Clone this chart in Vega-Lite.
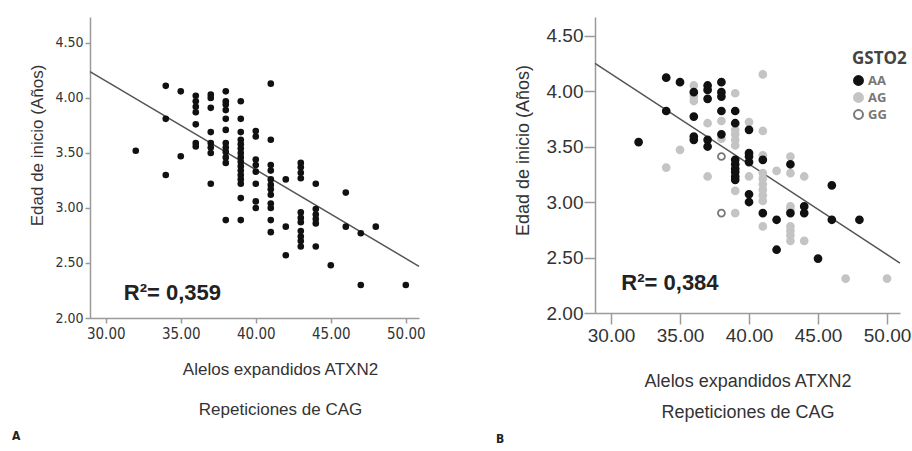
{
  "$schema": "https://vega.github.io/schema/vega-lite/v6.json",
  "padding": {"left": 11, "top": 17, "right": 0, "bottom": 5},
  "background": "white",
  "config": {
    "view": {"stroke": null},
    "concat": {"spacing": 70},
    "axis": {"grid": false, "domainColor": "#9a9a9a", "domainWidth": 1.5, "tickColor": "#9a9a9a", "tickWidth": 1.5, "labelColor": "#333", "titleColor": "#333", "titleFontWeight": "normal", "labelFont": "DejaVu Sans Condensed, Liberation Sans, sans-serif", "titleFont": "Liberation Sans"}
  },
  "datasets": {
    "a": [
      {"x": 32, "y": 3.52},
      {"x": 34, "y": 4.11}, {"x": 34, "y": 3.81}, {"x": 34, "y": 3.30},
      {"x": 35, "y": 4.06}, {"x": 35, "y": 3.47},
      {"x": 36, "y": 4.02}, {"x": 36, "y": 3.97}, {"x": 36, "y": 3.92}, {"x": 36, "y": 3.87}, {"x": 36, "y": 3.76}, {"x": 36, "y": 3.59}, {"x": 36, "y": 3.56},
      {"x": 37, "y": 4.03}, {"x": 37, "y": 4.00}, {"x": 37, "y": 3.91}, {"x": 37, "y": 3.69}, {"x": 37, "y": 3.59}, {"x": 37, "y": 3.55}, {"x": 37, "y": 3.50}, {"x": 37, "y": 3.22},
      {"x": 38, "y": 4.06}, {"x": 38, "y": 3.97}, {"x": 38, "y": 3.94}, {"x": 38, "y": 3.89}, {"x": 38, "y": 3.81}, {"x": 38, "y": 3.71}, {"x": 38, "y": 3.59}, {"x": 38, "y": 3.55}, {"x": 38, "y": 3.51}, {"x": 38, "y": 3.46}, {"x": 38, "y": 3.41}, {"x": 38, "y": 2.89},
      {"x": 39, "y": 3.97}, {"x": 39, "y": 3.81}, {"x": 39, "y": 3.69}, {"x": 39, "y": 3.62}, {"x": 39, "y": 3.58}, {"x": 39, "y": 3.54}, {"x": 39, "y": 3.50}, {"x": 39, "y": 3.46}, {"x": 39, "y": 3.42}, {"x": 39, "y": 3.38}, {"x": 39, "y": 3.34}, {"x": 39, "y": 3.30}, {"x": 39, "y": 3.26}, {"x": 39, "y": 3.22}, {"x": 39, "y": 3.09}, {"x": 39, "y": 2.89},
      {"x": 40, "y": 3.70}, {"x": 40, "y": 3.65}, {"x": 40, "y": 3.44}, {"x": 40, "y": 3.39}, {"x": 40, "y": 3.33}, {"x": 40, "y": 3.22}, {"x": 40, "y": 3.06}, {"x": 40, "y": 3.00},
      {"x": 41, "y": 4.13}, {"x": 41, "y": 3.62}, {"x": 41, "y": 3.39}, {"x": 41, "y": 3.34}, {"x": 41, "y": 3.26}, {"x": 41, "y": 3.21}, {"x": 41, "y": 3.17}, {"x": 41, "y": 3.12}, {"x": 41, "y": 3.04}, {"x": 41, "y": 3.00}, {"x": 41, "y": 2.89}, {"x": 41, "y": 2.78},
      {"x": 42, "y": 3.26}, {"x": 42, "y": 2.83}, {"x": 42, "y": 2.57},
      {"x": 43, "y": 3.41}, {"x": 43, "y": 3.37}, {"x": 43, "y": 3.32}, {"x": 43, "y": 3.27}, {"x": 43, "y": 2.96}, {"x": 43, "y": 2.91}, {"x": 43, "y": 2.87}, {"x": 43, "y": 2.79}, {"x": 43, "y": 2.74}, {"x": 43, "y": 2.70}, {"x": 43, "y": 2.65},
      {"x": 44, "y": 3.22}, {"x": 44, "y": 2.99}, {"x": 44, "y": 2.94}, {"x": 44, "y": 2.90}, {"x": 44, "y": 2.86}, {"x": 44, "y": 2.65},
      {"x": 45, "y": 2.48},
      {"x": 46, "y": 3.14}, {"x": 46, "y": 2.83},
      {"x": 47, "y": 2.77}, {"x": 47, "y": 2.30},
      {"x": 48, "y": 2.83},
      {"x": 50, "y": 2.30}
    ],
    "b": [
      {"x": 34, "y": 3.31, "g": "AG"}, {"x": 35, "y": 3.47, "g": "AG"}, {"x": 36, "y": 4.05, "g": "AG"}, {"x": 36, "y": 3.95, "g": "AG"}, {"x": 36, "y": 3.91, "g": "AG"},
      {"x": 37, "y": 3.71, "g": "AG"}, {"x": 37, "y": 3.23, "g": "AG"}, {"x": 38, "y": 3.73, "g": "AG"}, {"x": 38, "y": 3.57, "g": "AG"},
      {"x": 39, "y": 3.98, "g": "AG"}, {"x": 39, "y": 3.65, "g": "AG"}, {"x": 39, "y": 3.61, "g": "AG"}, {"x": 39, "y": 3.56, "g": "AG"}, {"x": 39, "y": 3.51, "g": "AG"}, {"x": 39, "y": 3.10, "g": "AG"}, {"x": 39, "y": 2.90, "g": "AG"},
      {"x": 40, "y": 3.72, "g": "AG"}, {"x": 40, "y": 3.23, "g": "AG"},
      {"x": 41, "y": 4.15, "g": "AG"}, {"x": 41, "y": 3.64, "g": "AG"}, {"x": 41, "y": 3.42, "g": "AG"}, {"x": 41, "y": 3.26, "g": "AG"}, {"x": 41, "y": 3.21, "g": "AG"}, {"x": 41, "y": 3.16, "g": "AG"}, {"x": 41, "y": 3.11, "g": "AG"}, {"x": 41, "y": 3.06, "g": "AG"}, {"x": 41, "y": 3.01, "g": "AG"}, {"x": 41, "y": 2.78, "g": "AG"},
      {"x": 42, "y": 3.28, "g": "AG"},
      {"x": 43, "y": 3.41, "g": "AG"}, {"x": 43, "y": 3.26, "g": "AG"}, {"x": 43, "y": 2.96, "g": "AG"}, {"x": 43, "y": 2.93, "g": "AG"}, {"x": 43, "y": 2.78, "g": "AG"}, {"x": 43, "y": 2.74, "g": "AG"}, {"x": 43, "y": 2.70, "g": "AG"}, {"x": 43, "y": 2.65, "g": "AG"},
      {"x": 44, "y": 3.23, "g": "AG"}, {"x": 44, "y": 2.65, "g": "AG"},
      {"x": 47, "y": 2.31, "g": "AG"}, {"x": 50, "y": 2.31, "g": "AG"},
      {"x": 38, "y": 3.41, "g": "GG"}, {"x": 38, "y": 2.90, "g": "GG"},
      {"x": 32, "y": 3.54, "g": "AA"},
      {"x": 34, "y": 4.12, "g": "AA"}, {"x": 34, "y": 3.82, "g": "AA"},
      {"x": 35, "y": 4.08, "g": "AA"},
      {"x": 36, "y": 3.99, "g": "AA"}, {"x": 36, "y": 3.77, "g": "AA"}, {"x": 36, "y": 3.59, "g": "AA"}, {"x": 36, "y": 3.56, "g": "AA"},
      {"x": 37, "y": 4.05, "g": "AA"}, {"x": 37, "y": 4.01, "g": "AA"}, {"x": 37, "y": 3.93, "g": "AA"}, {"x": 37, "y": 3.56, "g": "AA"}, {"x": 37, "y": 3.50, "g": "AA"},
      {"x": 38, "y": 4.08, "g": "AA"}, {"x": 38, "y": 3.99, "g": "AA"}, {"x": 38, "y": 3.95, "g": "AA"}, {"x": 38, "y": 3.82, "g": "AA"}, {"x": 38, "y": 3.61, "g": "AA"},
      {"x": 39, "y": 3.82, "g": "AA"}, {"x": 39, "y": 3.71, "g": "AA"}, {"x": 39, "y": 3.38, "g": "AA"}, {"x": 39, "y": 3.34, "g": "AA"}, {"x": 39, "y": 3.30, "g": "AA"}, {"x": 39, "y": 3.27, "g": "AA"}, {"x": 39, "y": 3.23, "g": "AA"}, {"x": 39, "y": 3.20, "g": "AA"},
      {"x": 40, "y": 3.65, "g": "AA"}, {"x": 40, "y": 3.44, "g": "AA"}, {"x": 40, "y": 3.41, "g": "AA"}, {"x": 40, "y": 3.36, "g": "AA"}, {"x": 40, "y": 3.07, "g": "AA"}, {"x": 40, "y": 3.00, "g": "AA"},
      {"x": 41, "y": 3.38, "g": "AA"}, {"x": 41, "y": 2.90, "g": "AA"},
      {"x": 42, "y": 2.84, "g": "AA"}, {"x": 42, "y": 2.57, "g": "AA"},
      {"x": 43, "y": 3.34, "g": "AA"}, {"x": 43, "y": 2.90, "g": "AA"},
      {"x": 44, "y": 2.96, "g": "AA"}, {"x": 44, "y": 2.90, "g": "AA"},
      {"x": 45, "y": 2.49, "g": "AA"},
      {"x": 46, "y": 3.15, "g": "AA"}, {"x": 46, "y": 2.84, "g": "AA"},
      {"x": 48, "y": 2.84, "g": "AA"}
    ],
    "fitA": [{"x": 28.95, "y": 4.24}, {"x": 50.88, "y": 2.47}],
    "fitB": [{"x": 28.84, "y": 4.25}, {"x": 50.94, "y": 2.45}]
  },
  "hconcat": [
    {
      "width": 329,
      "height": 301,
      "title": {"text": "A", "orient": "bottom", "anchor": "start", "frame": "bounds", "offset": 14, "dx": -17, "fontSize": 12, "font": "DejaVu Sans Condensed, Liberation Sans, sans-serif", "fontWeight": "bold", "color": "#222"},
      "layer": [
        {
          "data": {"name": "fitA"},
          "mark": {"type": "line", "color": "#555", "strokeWidth": 1.5},
          "encoding": {
            "x": {"field": "x", "type": "quantitative", "scale": {"domain": [28.95, 50.88], "nice": false, "zero": false},
              "axis": {"values": [30, 35, 40, 45, 50], "format": ".2f", "title": ["Alelos expandidos ATXN2", "Repeticiones de CAG"], "titleFontSize": 17, "titleLineHeight": 40, "labelFontSize": 15, "tickSize": 5, "labelPadding": 3, "titlePadding": 20, "titleX": 190}},
            "y": {"field": "y", "type": "quantitative", "scale": {"domain": [2, 4.736], "nice": false, "zero": false},
              "axis": {"values": [2, 2.5, 3, 3.5, 4, 4.5], "format": ".2f", "title": "Edad de inicio (Años)", "titleFontSize": 17, "labelFontSize": 14, "tickSize": 5, "labelPadding": 2, "titlePadding": 8, "titleY": 128}}
          }
        },
        {
          "data": {"name": "a"},
          "mark": {"type": "circle", "size": 44, "color": "#111", "opacity": 1},
          "encoding": {
            "x": {"field": "x", "type": "quantitative"},
            "y": {"field": "y", "type": "quantitative"}
          }
        },
        {
          "data": {"values": [{}]},
          "mark": {"type": "text", "text": "R²= 0,359", "font": "Liberation Sans", "fontWeight": "bold", "fontSize": 22, "color": "#222", "align": "left", "baseline": "middle"},
          "encoding": {"x": {"datum": 31.2}, "y": {"datum": 2.227}}
        }
      ]
    },
    {
      "width": 305,
      "height": 296,
      "title": {"text": "B", "orient": "bottom", "anchor": "start", "frame": "bounds", "offset": 13, "dx": -18, "fontSize": 12, "font": "DejaVu Sans Condensed, Liberation Sans, sans-serif", "fontWeight": "bold", "color": "#222"},
      "layer": [
        {
          "data": {"name": "fitB"},
          "mark": {"type": "line", "color": "#555", "strokeWidth": 1.5},
          "encoding": {
            "x": {"field": "x", "type": "quantitative", "scale": {"domain": [28.84, 50.94], "nice": false, "zero": false},
              "axis": {"values": [30, 35, 40, 45, 50], "format": ".2f", "title": ["Alelos expandidos ATXN2", "Repeticiones de CAG"], "titleFontSize": 18, "titleLineHeight": 31, "labelFont": "Liberation Sans", "labelFontSize": 19, "tickSize": 11, "labelPadding": 2, "titlePadding": 27}},
            "y": {"field": "y", "type": "quantitative", "scale": {"domain": [2, 4.667], "nice": false, "zero": false},
              "axis": {"values": [2, 2.5, 3, 3.5, 4, 4.5], "format": ".2f", "title": "Edad de inicio (Años)", "titleFontSize": 18, "titleY": 133, "labelFont": "Liberation Sans", "labelFontSize": 19, "tickSize": 11, "labelPadding": 1, "titlePadding": 14}}
          }
        },
        {
          "data": {"name": "b"},
          "mark": {"type": "point", "shape": "circle", "size": 48, "strokeWidth": 1.8, "opacity": 1},
          "encoding": {
            "x": {"field": "x", "type": "quantitative"},
            "y": {"field": "y", "type": "quantitative"},
            "fill": {"field": "g", "type": "nominal", "scale": {"domain": ["AA", "AG", "GG"], "range": ["#111111", "#c4c4c4", "#ffffff"]},
              "legend": {"orient": "none", "legendX": 762, "legendY": 34, "title": "GSTO2", "titleFont": "Open Sans", "titleFontSize": 17, "titleFontWeight": "bold", "titleColor": "#444", "labelFont": "Open Sans", "labelFontWeight": "bold", "labelFontSize": 13, "labelColor": "#777", "labelOffset": 3, "symbolSize": 80, "symbolStrokeWidth": 2, "rowPadding": 0, "titlePadding": 6}},
            "stroke": {"field": "g", "type": "nominal", "scale": {"domain": ["AA", "AG", "GG"], "range": ["#111111", "#c4c4c4", "#777777"]},
              "legend": {"orient": "none", "legendX": 762, "legendY": 34, "title": "GSTO2", "titleFont": "Open Sans", "titleFontSize": 17, "titleFontWeight": "bold", "titleColor": "#444", "labelFont": "Open Sans", "labelFontWeight": "bold", "labelFontSize": 13, "labelColor": "#777", "labelOffset": 3, "symbolSize": 80, "symbolStrokeWidth": 2, "rowPadding": 0, "titlePadding": 6}}
          }
        },
        {
          "data": {"values": [{}]},
          "mark": {"type": "text", "text": "R²= 0,384", "font": "Liberation Sans", "fontWeight": "bold", "fontSize": 22, "color": "#222", "align": "left", "baseline": "middle"},
          "encoding": {"x": {"datum": 30.75}, "y": {"datum": 2.27}}
        }
      ]
    }
  ]
}
